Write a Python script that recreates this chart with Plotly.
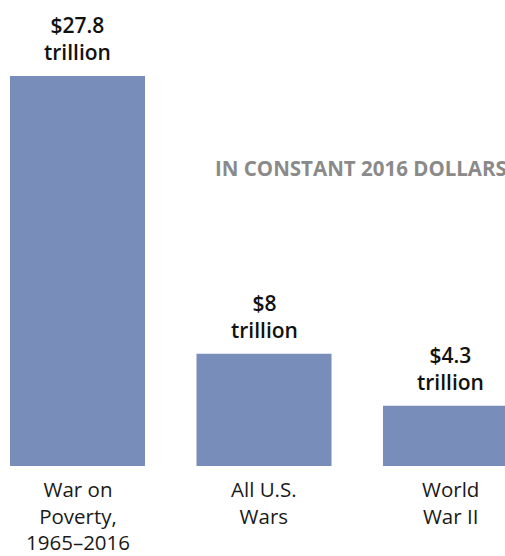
import plotly.graph_objects as go

categories = ["War on<br>Poverty,<br>1965–2016", "All U.S.<br>Wars", "World<br>War II"]
values = [27.8, 8, 4.3]
value_labels = ["$27.8<br>trillion", "$8<br>trillion", "$4.3<br>trillion"]
note = "IN CONSTANT 2016 DOLLARS"

BAR_COLOR = "#788db9"
FONT = "Open Sans"

xs = list(range(len(values)))

fig = go.Figure(
    go.Bar(
        x=xs,
        y=values,
        width=0.724,
        marker=dict(color=BAR_COLOR, line=dict(width=0)),
        hoverinfo="skip",
    )
)

annotations = []
for x, v, lab in zip(xs, values, value_labels):
    annotations.append(dict(
        x=x, y=v, xref="x", yref="y", text=lab,
        showarrow=False, yanchor="bottom", yshift=8,
        font=dict(family=FONT, size=21, color="#111111", weight=600),
    ))
for x, cat in zip(xs, categories):
    annotations.append(dict(
        x=x, y=0, xref="x", yref="y", text=cat,
        showarrow=False, yanchor="top", yshift=-8, borderpad=0,
        font=dict(family=FONT, size=20.5, color="#1a1a1a"),
    ))
# unit note, placed relative to the plot area
annotations.append(dict(
    x=213 / 505, y=1 - 168 / 466, xref="paper", yref="paper",
    text=note, showarrow=False, xanchor="left", yanchor="middle",
    font=dict(family=FONT, size=20.5, color="#8a8a8a", weight=700),
))

fig.update_layout(
    width=505, height=556,
    margin=dict(l=0, r=0, t=0, b=90),
    paper_bgcolor="white", plot_bgcolor="white",
    showlegend=False,
    xaxis=dict(range=[-77.5 / 186.5, (505 - 77.5) / 186.5], visible=False, fixedrange=True),
    yaxis=dict(range=[0, 27.8 * 466 / 390], visible=False, fixedrange=True),
    annotations=annotations,
)

fig.write_html("out.html")
